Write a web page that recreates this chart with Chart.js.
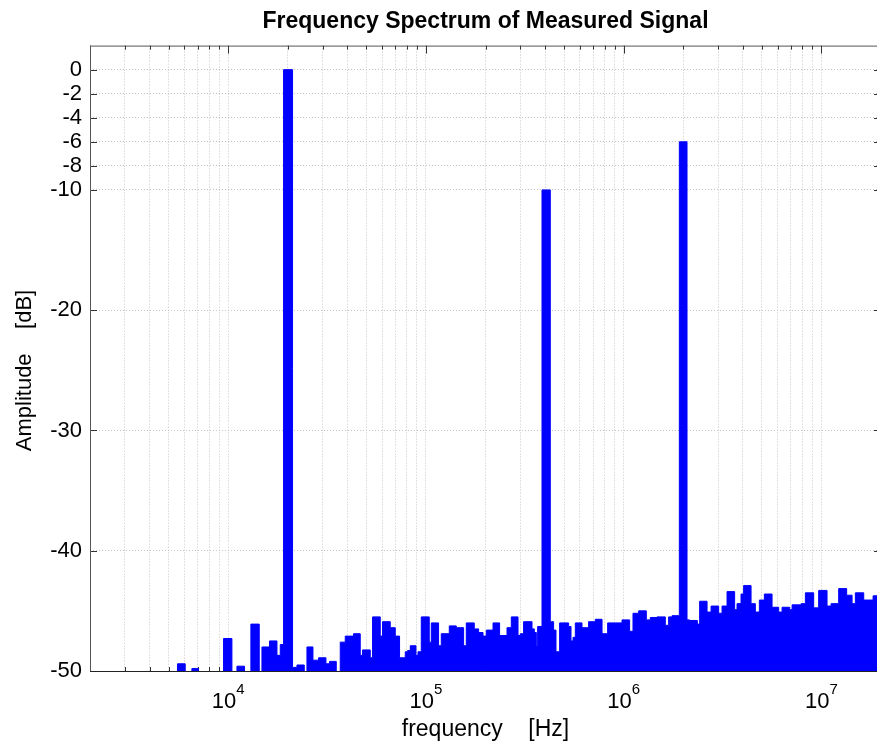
<!DOCTYPE html>
<html>
<head>
<meta charset="utf-8">
<title>Frequency Spectrum of Measured Signal</title>
<script src="https://cdn.jsdelivr.net/npm/chart.js@4.4.0/dist/chart.umd.min.js"></script>
<style>
  html, body { margin: 0; padding: 0; overflow: hidden; background: #fff; }
  #wrap { width: 881px; height: 743px; }
</style>
</head>
<body>
<div id="wrap"><canvas id="spectrum" width="881" height="743"></canvas></div>
<script>
// Start frequency of each bin [Hz] and its level [dB]; -60 means "below the -50 floor"
const binStart = [
  2000, 5540, 6060, 6550, 7070, 9470, 10440, 11070, 12090, 13020,
  14350, 14810, 16180, 17640, 18330, 19050, 21150, 22260, 24240, 25010,
  26820, 28630, 31200, 32540, 35180, 36860, 39070, 43030, 46520, 47790,
  52270, 53690, 58720, 60320, 65970, 69930, 73520, 78590, 80730, 83310,
  89010, 91110, 94670, 103900, 106400, 115800, 119500, 131200, 142300, 155000,
  159900, 175500, 184600, 194300, 201900, 218300, 235700, 256900, 270100, 292100,
  300000, 311700, 343800, 353100, 361500, 367000, 386200, 425300, 442000, 454500,
  474100, 526500, 541400, 554200, 569200, 615300, 664400, 718400, 777000, 829200,
  906800, 980400, 1071000, 1114000, 1190000, 1301000, 1363000, 1474000, 1623000, 1687000,
  1755000, 1911000, 2090000, 2155000, 2357000, 2421000, 2639000, 2765000, 3020000, 3142000,
  3330000, 3638000, 3741000, 3919000, 4040000, 4405000, 4631000, 4852000, 5142000, 5625000,
  6076000, 6321000, 6906000, 7102000, 7886000, 8291000, 9132000, 9679000, 10670000, 11180000,
  12220000, 13410000, 14280000, 14840000, 16360000, 18240000
];
const amplitude = [
  -60, -49.4, -60, -49.8, -60, -47.3, -60, -49.6, -60, -46.1,
  -60, -48.0, -47.5, -48.7, -47.8, 0, -49.7, -49.5, -60, -48.0,
  -49.1, -48.9, -49.4, -49.2, -60, -47.6, -47.1, -46.9, -48.7, -48.25,
  -48.9, -45.5, -47.1, -45.9, -46.4, -47.1, -48.9, -48.4, -48.3, -47.9,
  -48.7, -48.4, -45.5, -47.6, -46.0, -47.9, -46.9, -46.25, -46.4, -47.9,
  -46.0, -46.5, -46.8, -47.1, -46.6, -46.0, -47.05, -46.4, -45.5, -47.05,
  -46.9, -45.9, -46.5, -46.8, -47.9, -46.3, -10, -45.9, -46.6, -48.4,
  -46.0, -46.3, -47.5, -47.2, -46.0, -46.4, -45.9, -45.7, -46.9, -46.0,
  -46.0, -45.75, -46.7, -45.2, -45.0, -45.75, -45.55, -45.5, -46.2, -45.5,
  -45.4, -6, -45.75, -45.8, -46.1, -44.2, -45.1, -44.6, -45.2, -44.6,
  -43.4, -44.9, -44.4, -43.6, -42.9, -44.4, -45.1, -44.1, -43.6, -44.7,
  -45.1, -44.7, -44.9, -44.5, -44.4, -43.5, -44.75, -43.3, -44.6, -44.4,
  -43.15, -43.7, -44.4, -43.5, -44.1, -43.75
];
const freqMin = 2000;
const freqMax = 2e7;
const yTickValues = [0, -2, -4, -6, -8, -10, -20, -30, -40, -50];
const xLabelExponents = [4, 5, 6, 7];

const FONT = "'Liberation Sans', Arial, Helvetica, sans-serif";

// step line: each bin holds its level until the next bin starts
const points = binStart.map((f, i) => ({ x: f, y: amplitude[i] }));
points.push({ x: freqMax, y: amplitude[amplitude.length - 1] });

function isDecade(v) {
  const e = Math.log10(v);
  return Math.abs(e - Math.round(e)) < 1e-9;
}

const axesDecor = {
  id: 'axesDecor',
  beforeDatasetsDraw(chart) {
    // MATLAB style inward tick marks
    const { ctx, chartArea: a, scales: { x, y } } = chart;
    ctx.save();
    ctx.strokeStyle = '#333';
    ctx.lineWidth = 1;
    ctx.beginPath();
    x.ticks.forEach(t => {
      const px = Math.round(x.getPixelForValue(t.value)) + 0.5;
      const len = isDecade(t.value) ? 8 : 4;
      ctx.moveTo(px, a.top); ctx.lineTo(px, a.top + len);
      ctx.moveTo(px, a.bottom); ctx.lineTo(px, a.bottom - len);
    });
    y.ticks.forEach(t => {
      const py = Math.round(y.getPixelForValue(t.value)) + 0.5;
      ctx.moveTo(a.left, py); ctx.lineTo(a.left + 7, py);
      ctx.moveTo(a.right, py); ctx.lineTo(a.right - 7, py);
    });
    ctx.stroke();
    ctx.restore();
  },
  afterDraw(chart) {
    const { ctx, chartArea: a, scales: { x } } = chart;
    ctx.save();
    ctx.strokeStyle = '#555';
    ctx.lineWidth = 1;
    ctx.strokeRect(a.left + 0.5, a.top + 0.5, a.right - a.left - 1, a.bottom - a.top);
    ctx.strokeStyle = '#222';
    ctx.beginPath();
    ctx.moveTo(a.left, a.bottom + 0.5);
    ctx.lineTo(a.right, a.bottom + 0.5);
    ctx.stroke();

    // decade labels 10^n with a raised exponent
    ctx.fillStyle = '#000';
    ctx.textBaseline = 'alphabetic';
    xLabelExponents.forEach(e => {
      const px = x.getPixelForValue(Math.pow(10, e));
      ctx.font = '22px ' + FONT;
      const wBase = ctx.measureText('10').width;
      ctx.font = '15px ' + FONT;
      const wExp = ctx.measureText(String(e)).width;
      const left = px - (wBase + wExp) / 2;
      ctx.font = '22px ' + FONT;
      ctx.fillText('10', left, a.bottom + 37);
      ctx.font = '15px ' + FONT;
      ctx.fillText(String(e), left + wBase, a.bottom + 23);
    });
    ctx.restore();
  }
};

new Chart(document.getElementById('spectrum'), {
  type: 'line',
  data: {
    datasets: [{
      data: points,
      stepped: 'before',
      borderColor: '#0000ff',
      backgroundColor: '#0000ff',
      borderWidth: 1,
      pointRadius: 0,
      fill: 'start'
    }]
  },
  options: {
    responsive: false,
    animation: false,
    layout: { padding: { left: 0, right: 0, top: 0, bottom: 0 } },
    plugins: {
      legend: { display: false },
      tooltip: { enabled: false },
      title: {
        display: true,
        fullSize: false,
        text: 'Frequency Spectrum of Measured Signal',
        color: '#000',
        font: { family: FONT, size: 23, weight: 'bold', lineHeight: 1.2 },
        padding: { top: 8, bottom: 10 }
      }
    },
    scales: {
      x: {
        type: 'logarithmic',
        min: freqMin,
        max: freqMax,
        afterBuildTicks: scale => {
          const ticks = [];
          for (let e = 3; e <= 7; e++) {
            for (let m = 1; m <= 9; m++) {
              const v = m * Math.pow(10, e);
              if (v >= freqMin && v <= freqMax) ticks.push({ value: v });
            }
          }
          scale.ticks = ticks;
        },
        afterFit: scale => { scale.height = 72; },
        ticks: { display: false },
        grid: { color: '#c4c4c4', drawTicks: false },
        border: { display: false, dash: [1, 2] },
        title: {
          display: true,
          text: 'frequency    [Hz]',
          color: '#000',
          font: { family: FONT, size: 23, lineHeight: 1.2 },
          padding: { top: 0, bottom: 0 }
        }
      },
      y: {
        type: 'linear',
        min: -50,
        max: 2,
        afterBuildTicks: scale => {
          scale.ticks = yTickValues.map(v => ({ value: v }));
        },
        afterFit: scale => { scale.width = 90; },
        ticks: {
          color: '#000',
          padding: 8,
          font: { family: FONT, size: 22 },
          callback: v => String(v)
        },
        grid: { color: '#c4c4c4', drawTicks: false },
        border: { display: false, dash: [1, 2] },
        title: {
          display: true,
          // trailing spaces nudge the label a little below the axis middle, as in the original
          text: 'Amplitude    [dB]    ',
          color: '#000',
          font: { family: FONT, size: 22, lineHeight: 1.2 },
          padding: { top: 12, bottom: 0 }
        }
      }
    }
  },
  plugins: [axesDecor]
});
</script>
</body>
</html>
